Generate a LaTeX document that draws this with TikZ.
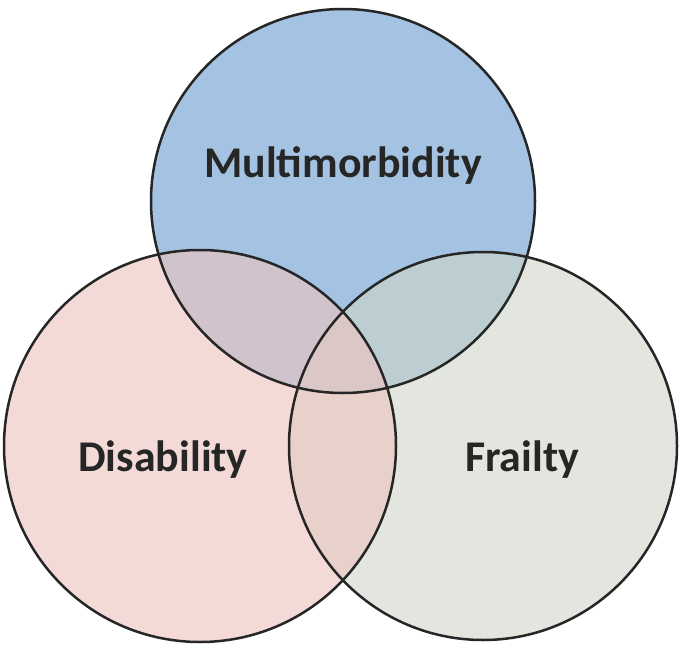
\documentclass[tikz,border=0pt]{standalone}
\usepackage{fontspec}
\setmainfont{Carlito}
\definecolor{cblue}{RGB}{164,194,225}
\definecolor{cpink}{RGB}{237,196,192}
\definecolor{cgreen}{RGB}{207,214,200}
\tikzset{ring/.style={draw=black!85,line width=2.5bp},
lbl/.style={font=\bfseries\fontsize{44}{46}\selectfont,text=black!85}}
\begin{document}
\begin{tikzpicture}[x=1bp,y=-1bp]
\useasboundingbox (0,0) rectangle (680,645);
\fill[white] (0,0) rectangle (680,645);
\fill[cblue] (343,201) circle[radius=192];
\fill[cgreen,fill opacity=0.6] (483,446) circle[radius=194];
\fill[cpink,fill opacity=0.62] (200,446) circle[radius=196];
\draw[ring] (483,446) circle[radius=194];
\draw[ring] (200,446) circle[radius=196];
\draw[ring] (343,201) circle[radius=192];
\node[lbl] (m) at (343,166) {Multimorbidity};
\node[lbl] (d) at (163,460) {Disability};
\node[lbl] (f) at (522,460) {Frailty};
\end{tikzpicture}
\end{document}
